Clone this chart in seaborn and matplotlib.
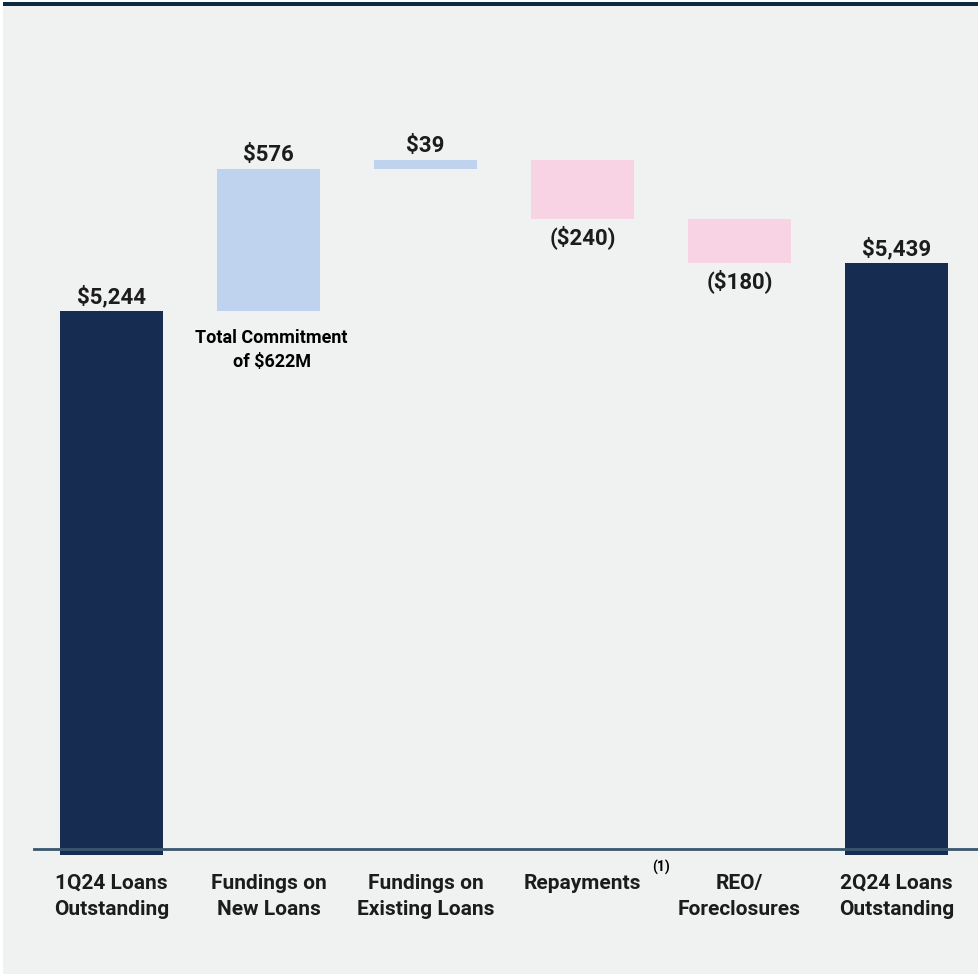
import matplotlib
matplotlib.use("Agg")
import matplotlib.pyplot as plt
from matplotlib.patches import Rectangle
import numpy as np
import pandas as pd
import seaborn as sns

# ---- data -------------------------------------------------------------
categories = [
    "1Q24 Loans\nOutstanding",
    "Fundings on\nNew Loans",
    "Fundings on\nExisting Loans",
    "Repayments",
    "REO/\nForeclosures",
    "2Q24 Loans\nOutstanding",
]
values = [5244, 576, 39, -240, -180, 5439]
is_total = [True, False, False, False, False, True]
value_labels = ["$5,244", "$576", "$39", "($240)", "($180)", "$5,439"]

# ---- styling ------------------------------------------------------------
NAVY = "#162c51"
BLUE = "#bfd3ef"
PINK = "#f7d3e4"
PANEL = "#f0f2f1"
TOPLINE = "#0d2a3f"
AXISLINE = "#3a566f"
TEXT = "#1c1c1c"

sns.set_theme(style="white")
plt.rcParams["font.family"] = ["Roboto", "DejaVu Sans"]

Y_FLOOR = 3034      # lower edge of the plotting range
Y_BASE = 3058       # value at which the baseline rule is drawn
Y_TOP = 6483

# waterfall geometry: totals rise from the floor, changes float on the running sum
bottoms, heights, colors = [], [], []
running = 0
for v, tot in zip(values, is_total):
    if tot:
        bottoms.append(Y_FLOOR)
        heights.append(v - Y_FLOOR)
        colors.append(NAVY)
        running = v
    else:
        bottoms.append(running)
        heights.append(v)
        colors.append(BLUE if v >= 0 else PINK)
        running += v

df = pd.DataFrame({"category": categories, "height": heights})

fig = plt.figure(figsize=(9.79, 9.79), dpi=100, facecolor="white")
W = H = 979.0
fig.patches.append(Rectangle((3 / W, 4 / H), 976 / W, 968 / H,
                             transform=fig.transFigure, facecolor=PANEL,
                             edgecolor="none", zorder=0))
fig.patches.append(Rectangle((3 / W, 972 / H), 976 / W, 4 / H,
                             transform=fig.transFigure, facecolor=TOPLINE,
                             edgecolor="none", zorder=1))

ax = fig.add_axes([33 / W, 1 - 856 / H, 1 - 33 / W, (856 - 7) / H])
ax.set_zorder(5)
ax.set_facecolor("none")

sns.barplot(data=df, x="category", y="height", order=categories,
            bottom=np.array(bottoms), width=0.656, errorbar=None,
            color=NAVY, linewidth=0, ax=ax)
for patch, c in zip(ax.patches, colors):
    patch.set_facecolor(c)
    patch.set_edgecolor("none")

ax.set_xlim(-0.5, 5.525)
ax.set_ylim(Y_FLOOR, Y_TOP)
ax.axhline(Y_BASE, color=AXISLINE, lw=2, zorder=3)

for s in ax.spines.values():
    s.set_visible(False)
ax.set_yticks([])
ax.set_xlabel("")
ax.set_ylabel("")
ax.tick_params(axis="x", length=0, pad=13)
ax.set_xticks(range(len(categories)))
ax.set_xticklabels(categories, fontsize=15, fontweight="bold", color=TEXT,
                   va="top", linespacing=1.45)

# value labels: above the bar end for increases/totals, below for decreases
for i, (b, h, lab) in enumerate(zip(bottoms, heights, value_labels)):
    top = b + h
    if h >= 0:
        ax.annotate(lab, (i, top), xytext=(0, 4), textcoords="offset pixels",
                    ha="center", va="bottom", fontsize=16, fontweight="bold",
                    color=TEXT)
    else:
        ax.annotate(lab, (i, top), xytext=(0, -5), textcoords="offset pixels",
                    ha="center", va="top", fontsize=16, fontweight="bold",
                    color=TEXT)

# commitment note beneath the new-loan fundings bar
ax.annotate("Total Commitment\nof $622M", (1, bottoms[1]), xytext=(3, -17),
            textcoords="offset pixels", ha="center", va="top", fontsize=13,
            fontweight="bold", color="black", linespacing=1.4)

# footnote marker on the repayments label
ax.annotate("(1)", (3, Y_BASE), xytext=(78, -10), textcoords="offset pixels",
            ha="center", va="top", fontsize=10, fontweight="bold", color="black",
            annotation_clip=False)

fig.savefig("out.png", dpi=100, facecolor="white")
